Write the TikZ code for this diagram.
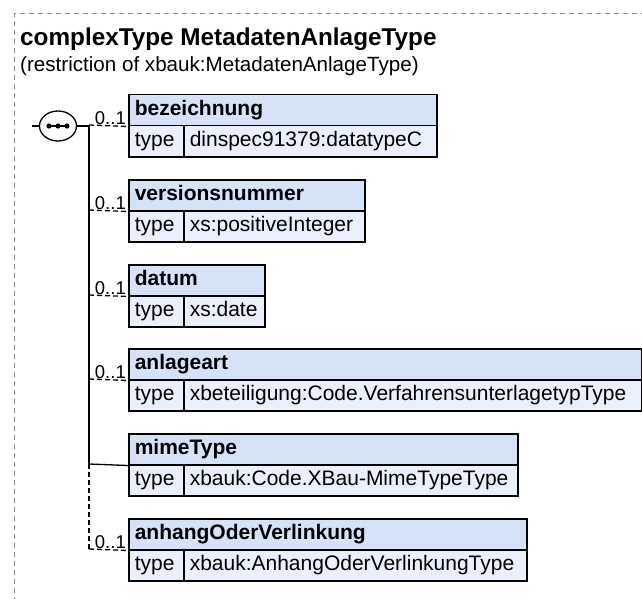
\documentclass[tikz,border=0pt]{standalone}
\usepackage{fontspec}
\setmainfont{Liberation Sans}
\usetikzlibrary{shapes.geometric}
\definecolor{hdr}{RGB}{214,226,247}
\definecolor{rowc}{RGB}{234,240,251}
\definecolor{brd}{RGB}{140,140,140}
\tikzset{
  boxbase/.style={draw=black, line width=1.5pt, anchor=north west, inner xsep=6pt, inner ysep=0pt,
    minimum height=31pt, text height=15pt, text depth=4pt, align=left, font=\fontsize{21}{25}\selectfont},
  hdrbox/.style={boxbase, fill=hdr, font=\bfseries\fontsize{21}{25}\selectfont},
  typebox/.style={boxbase, fill=rowc, text width=43pt},
  valbox/.style={boxbase, fill=rowc},
  mult/.style={anchor=south east, inner sep=0pt, font=\fontsize{18.5}{20}\selectfont, text depth=0pt},
  conn/.style={line width=1.3pt, black},
  optconn/.style={conn, dash pattern=on 5pt off 3pt},
}
\begin{document}
\begin{tikzpicture}[x=1pt,y=-1pt]
\useasboundingbox (0,0) rectangle (642,599);
\clip (0,0) rectangle (642,599);
\fill[white] (0,0) rectangle (642,599);
\draw[brd, line width=1pt, dash pattern=on 5pt off 4pt] (14,620) -- (14,14) -- (660,14);

\node[anchor=base west, inner sep=0pt, font=\bfseries\fontsize{24.3}{28}\selectfont] (title) at (20,46) {complexType MetadatenAnlageType};
\node[anchor=base west, inner sep=0pt, font=\fontsize{20.6}{24}\selectfont] (sub) at (20,71.5) {(restriction of xbauk:MetadatenAnlageType)};

% element boxes
\node[hdrbox, text width=296pt] (e1h) at (128,94) {bezeichnung};
\node[typebox] (e1t) at (128,125) {type};
\node[valbox, text width=241pt] (e1v) at (183,125) {dinspec91379:datatypeC};

\node[hdrbox, text width=224pt] (e2h) at (128,179) {versionsnummer};
\node[typebox] (e2t) at (128,210) {type};
\node[valbox, text width=169pt] (e2v) at (183,210) {xs:positiveInteger};

\node[hdrbox, text width=124pt] (e3h) at (128,264) {datum};
\node[typebox] (e3t) at (128,295) {type};
\node[valbox, text width=69pt] (e3v) at (183,295) {xs:date};

\node[hdrbox, text width=501pt] (e4h) at (128,348) {anlageart};
\node[typebox] (e4t) at (128,379) {type};
\node[valbox, text width=446pt] (e4v) at (183,379) {xbeteiligung:Code.VerfahrensunterlagetypType};

\node[hdrbox, text width=377pt] (e5h) at (128,433) {mimeType};
\node[typebox] (e5t) at (128,464) {type};
\node[valbox, text width=322pt] (e5v) at (183,464) {xbauk:Code.XBau-MimeTypeType};

\node[hdrbox, text width=386pt] (e6h) at (128,518) {anhangOderVerlinkung};
\node[typebox] (e6t) at (128,549) {type};
\node[valbox, text width=331pt] (e6v) at (183,549) {xbauk:AnhangOderVerlinkungType};

% sequence symbol
\node[draw, line width=1.3pt, ellipse, minimum width=37pt, minimum height=30pt, inner sep=0pt, fill=white] (seq) at (58,126) {};
\draw[line width=1.3pt] (48,126) -- (68,126);
\fill (49,126) circle (2.6pt) (58,126) circle (2.6pt) (67,126) circle (2.6pt);
\coordinate (stub) at (32,126);
\draw[conn] (stub) -- (seq.west);

\coordinate (j0) at (89,126);
\coordinate (j1) at (89,125);
\coordinate (j2) at (89,210);
\coordinate (j3) at (89,295);
\coordinate (j4) at (89,379);
\coordinate (j5) at (89,464);
\coordinate (j6) at (89,549);
\draw[conn] (seq.east) -- (j0);
\draw[conn] (j1) -- (j5);
\draw[optconn] (j5) -- (j6);

\draw[optconn] (j1) -- (e1h.south west);
\draw[optconn] (j2) -- (e2h.south west);
\draw[optconn] (j3) -- (e3h.south west);
\draw[optconn] (j4) -- (e4h.south west);
\draw[conn] (j5) -- (e5h.south west);
\draw[optconn] (j6) -- (e6h.south west);

\node[mult] (m1) at ([shift={(-2,-2)}]e1h.south west) {0..1};
\node[mult] (m2) at ([shift={(-2,-2)}]e2h.south west) {0..1};
\node[mult] (m3) at ([shift={(-2,-2)}]e3h.south west) {0..1};
\node[mult] (m4) at ([shift={(-2,-2)}]e4h.south west) {0..1};
\node[mult] (m6) at ([shift={(-2,-2)}]e6h.south west) {0..1};
\end{tikzpicture}
\end{document}
